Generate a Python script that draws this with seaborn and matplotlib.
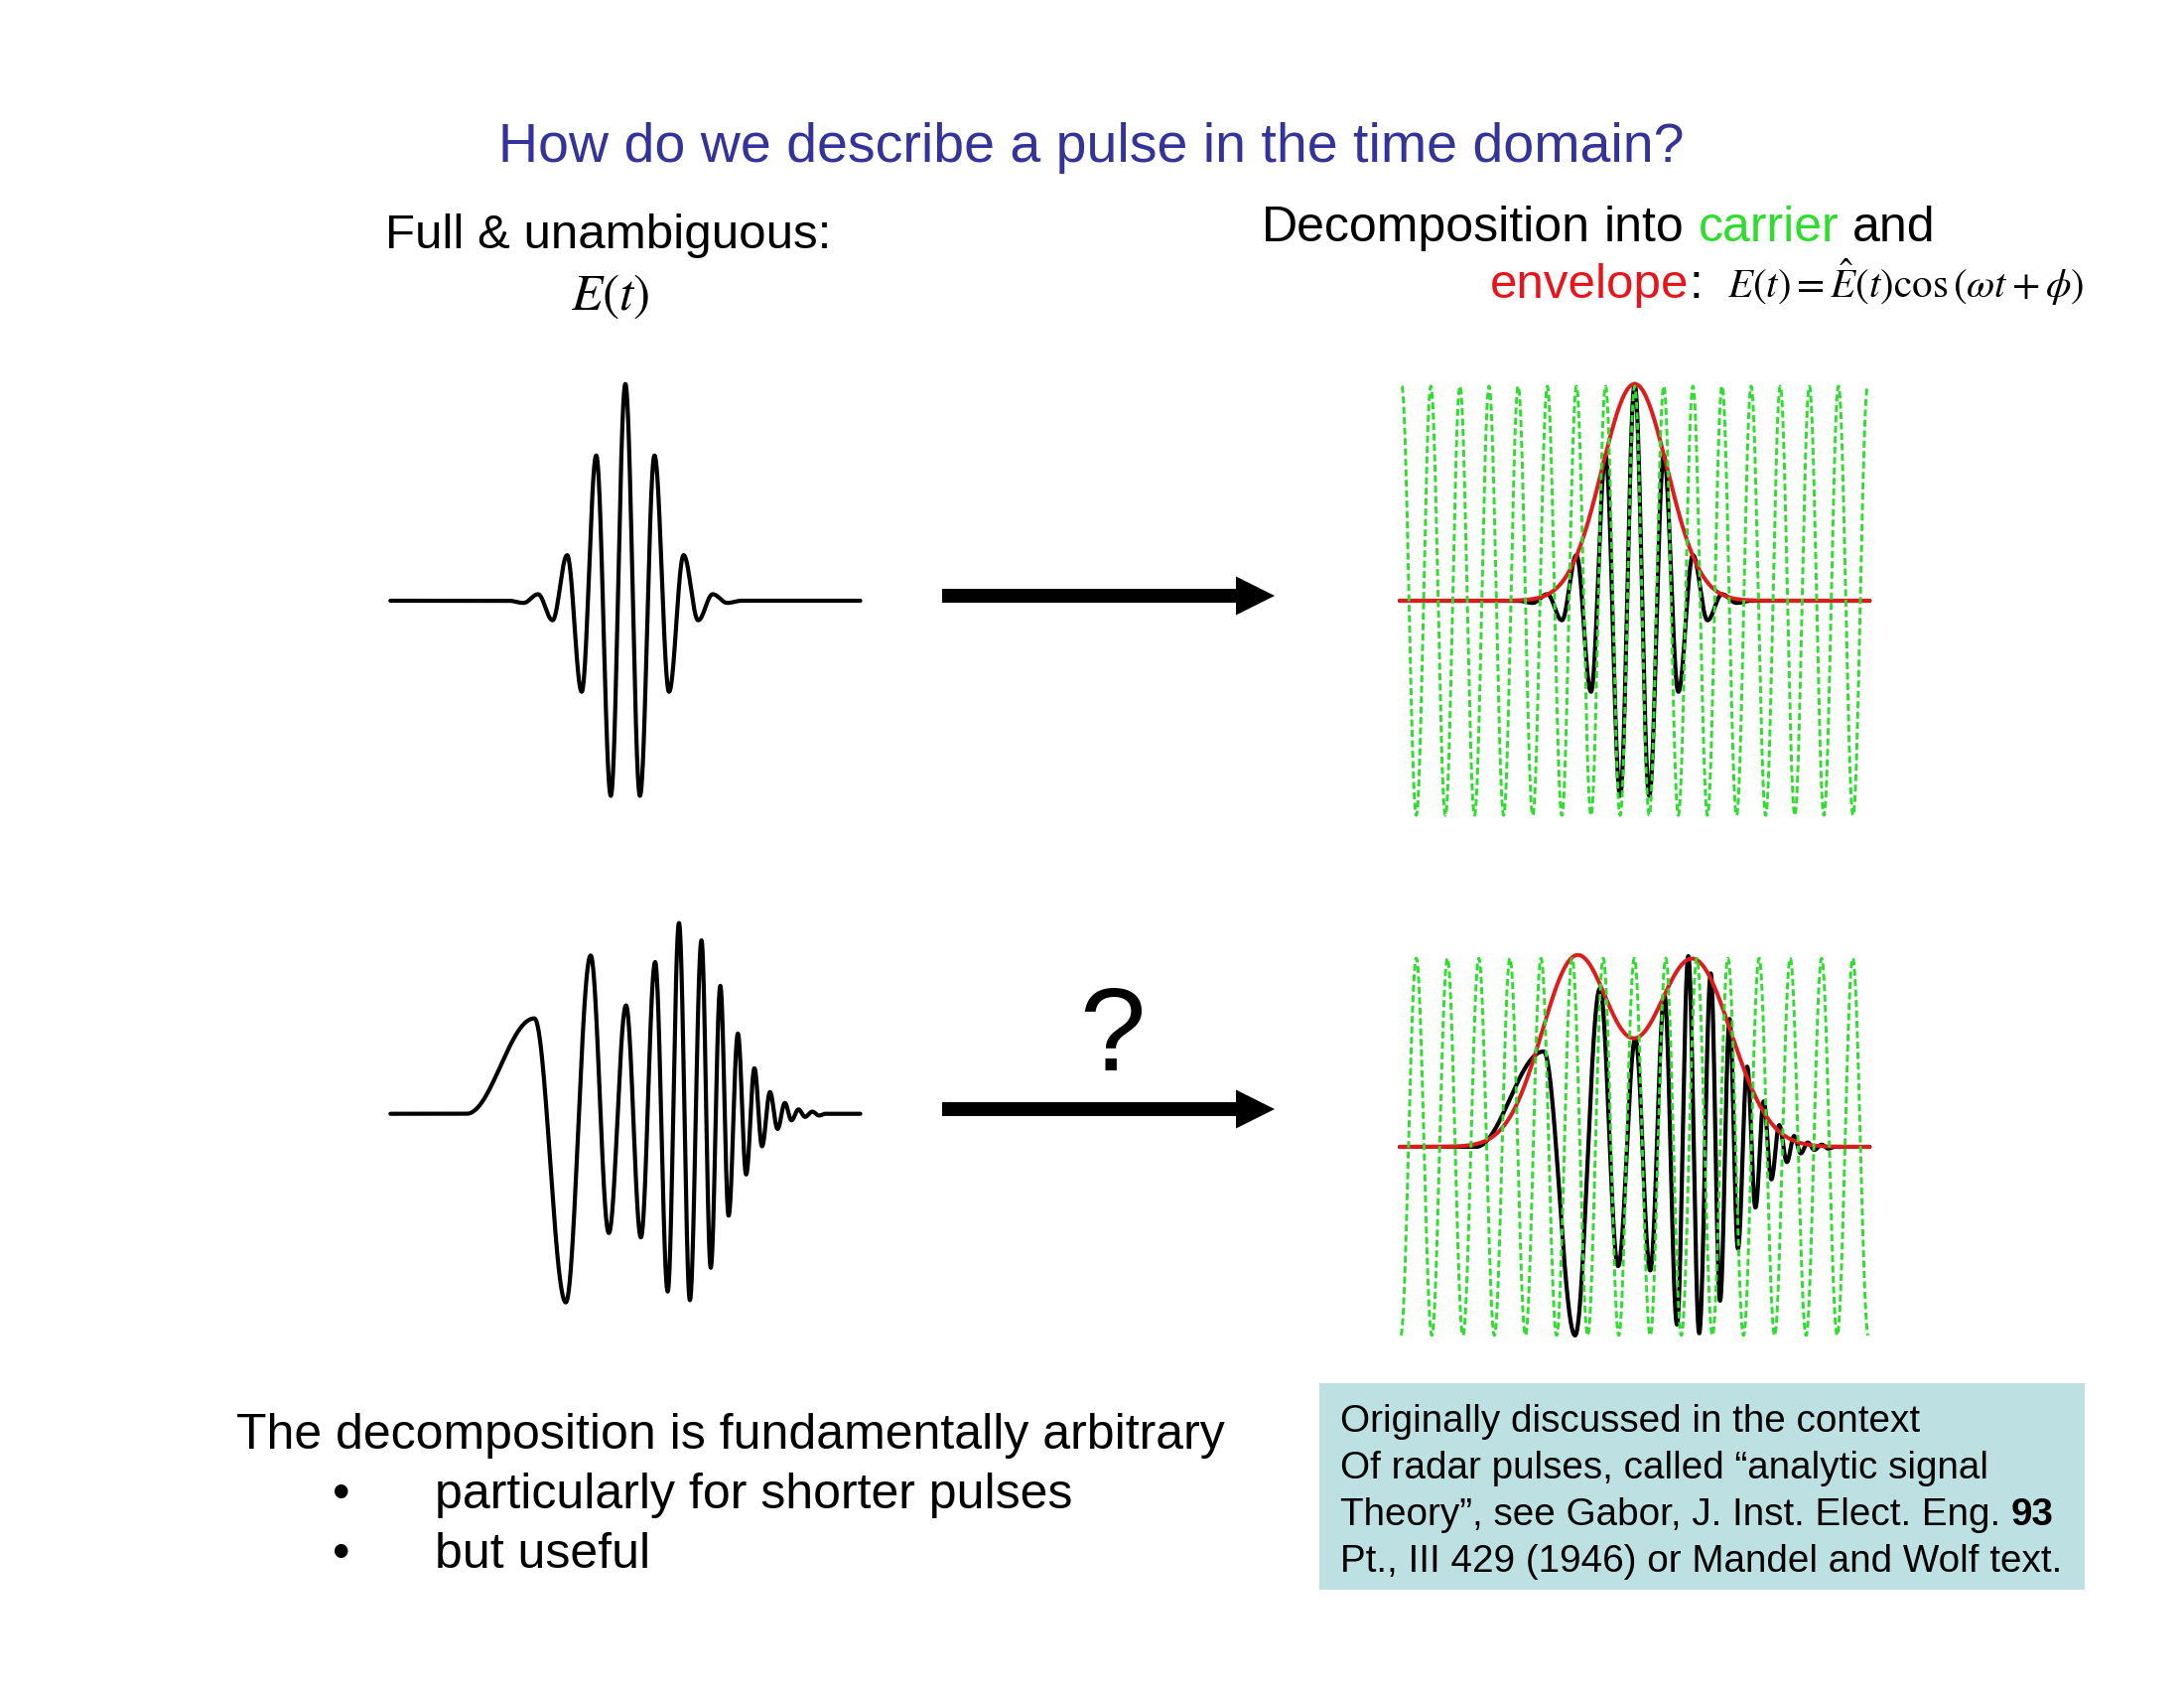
import numpy as np
import pandas as pd
import matplotlib
matplotlib.use("Agg")
import matplotlib.pyplot as plt
import seaborn as sns
from matplotlib.patches import FancyArrow, Rectangle

# ---------------- data (time in a.u., field normalised) -------------
time_range = [0.0, 142.0]

# extrema of the short (unchirped) pulse E(t)
short_pulse_t = [0.0, 35.8, 40.2, 44.6, 49.0, 53.4, 57.8, 62.2, 66.6, 71.0, 75.4, 79.8,
                 84.2, 88.6, 93.0, 97.4, 101.8, 106.2, 142.0]
short_pulse_v = [0.0, 0.0, -0.01, 0.03, -0.09, 0.21, -0.42, 0.67, -0.90, 1.00, -0.90, 0.67,
                 -0.42, 0.21, -0.09, 0.03, -0.01, 0.0, 0.0]

# extrema of the complex (chirped, double-humped) pulse E(t)
complex_pulse_t = [0.0, 23.0, 43.5, 53.0, 60.5, 66.0, 71.2, 75.7, 80.0, 83.8, 87.2, 90.5,
                   94.0, 96.8, 99.7, 102.2, 105.0, 107.5, 110.0, 112.3, 114.7, 117.0, 119.2,
                   121.2, 123.3, 125.3, 127.5, 129.5, 131.5, 142.0]
complex_pulse_v = [0.0, 0.0, 0.44, -0.87, 0.73, -0.55, 0.50, -0.57, 0.70, -0.82, 0.88, -0.86,
                   0.80, -0.71, 0.59, -0.47, 0.37, -0.28, 0.21, -0.15, 0.10, -0.07, 0.05,
                   -0.03, 0.02, -0.014, 0.01, -0.008, 0.0, 0.0]

# carrier extrema (green dashed)
short_carrier_t = [0.6, 5.0, 9.4, 13.8, 18.2, 22.6, 27.0, 31.4, 35.8, 40.2, 44.6, 49.0, 53.4,
                   57.8, 62.2, 66.6, 71.0, 75.4, 79.8, 84.2, 88.6, 93.0, 97.4, 101.8, 106.2,
                   110.6, 115.0, 119.4, 123.8, 128.2, 132.6, 137.0, 141.4]
short_carrier_v = [0.99, -0.99, 0.99, -0.99, 0.99, -0.99, 0.99, -0.99, 0.99, -0.99, 0.99,
                   -0.99, 0.99, -0.99, 0.99, -0.99, 0.99, -0.99, 0.99, -0.99, 0.99, -0.99,
                   0.99, -0.99, 0.99, -0.99, 0.99, -0.99, 0.99, -0.99, 0.99, -0.99, 0.99]
complex_carrier_t = [0.3, 5.0, 9.7, 14.4, 19.1, 23.9, 28.6, 33.3, 38.0, 42.7, 47.4, 52.1,
                     56.8, 61.5, 66.2, 70.9, 75.7, 80.4, 85.1, 89.8, 94.5, 99.2, 103.9,
                     108.6, 113.3, 118.0, 122.8, 127.5, 132.2, 136.9, 141.6]
complex_carrier_v = [-0.87, 0.87, -0.87, 0.87, -0.87, 0.87, -0.87, 0.87, -0.87, 0.87, -0.87,
                     0.87, -0.87, 0.87, -0.87, 0.87, -0.87, 0.87, -0.87, 0.87, -0.87, 0.87,
                     -0.87, 0.87, -0.87, 0.87, -0.87, 0.87, -0.87, 0.87, -0.87]

# envelope (red): bell-shaped humps  (centre, height, width)
short_env_center = [71.0]
short_env_height = [1.00]
short_env_width = [9.9]
complex_env_center = [53.5, 88.5]
complex_env_height = [0.875, 0.865]
complex_env_width = [10.5, 11.7]

# ---------------- helpers -----------------------------------------------------------------
t_grid = np.linspace(time_range[0], time_range[1], 4000)


def through_extrema(tk, vk, t):
    tk = np.asarray(tk, float)
    vk = np.asarray(vk, float)
    out = np.full_like(t, np.nan)
    inside = (t >= tk[0]) & (t <= tk[-1])
    tt = t[inside]
    idx = np.clip(np.searchsorted(tk, tt, side="right") - 1, 0, len(tk) - 2)
    s = (tt - tk[idx]) / (tk[idx + 1] - tk[idx])
    out[inside] = vk[idx] + (vk[idx + 1] - vk[idx]) * (1 - np.cos(np.pi * s)) / 2
    return out


def envelope(centers, heights, widths, t):
    e = np.zeros_like(t)
    for c, h, w in zip(centers, heights, widths):
        e += h * np.exp(-((t - c) ** 2) / (2 * w ** 2))
    return e


def frame(t, y):
    d = pd.DataFrame({"t": t, "E": y})
    return d.dropna()


short_df = frame(t_grid, through_extrema(short_pulse_t, short_pulse_v, t_grid))
complex_df = frame(t_grid, through_extrema(complex_pulse_t, complex_pulse_v, t_grid))
short_car_df = frame(t_grid, through_extrema(short_carrier_t, short_carrier_v, t_grid))
complex_car_df = frame(t_grid, through_extrema(complex_carrier_t, complex_carrier_v, t_grid))
short_env_df = frame(t_grid, envelope(short_env_center, short_env_height, short_env_width, t_grid))
complex_env_df = frame(t_grid, envelope(complex_env_center, complex_env_height, complex_env_width, t_grid))

# ---------------- figure ------------------------------------------------------------------
sns.set_style("white")
plt.rcParams["font.family"] = ["Liberation Sans", "DejaVu Sans"]
plt.rcParams["mathtext.fontset"] = "stix"
plt.rcParams["text.color"] = "black"

W, H = 2200, 1700
fig = plt.figure(figsize=(22, 17), dpi=100)
fig.patch.set_facecolor("white")

over = fig.add_axes([0, 0, 1, 1], zorder=0)
over.set_xlim(0, W)
over.set_ylim(H, 0)
over.axis("off")

PX_PER_UNIT_Y = 218.3
YLIM = 1.1
ax_h = 2 * YLIM * PX_PER_UNIT_Y
ax_w = 473.3


def panel(x_left, baseline_img):
    bottom = (H - baseline_img) - YLIM * PX_PER_UNIT_Y
    ax = fig.add_axes([x_left / W, bottom / H, ax_w / W, ax_h / H], zorder=2)
    ax.set_facecolor("none")
    ax.set_xlim(*time_range)
    ax.set_ylim(-YLIM, YLIM)
    ax.axis("off")
    return ax


BLACK_LW = 3.0
RED_LW = 2.9
GREEN_LW = 2.1
GREEN_COL = "#2fdc2f"
RED_COL = "#dd1c1c"

ax_tl = panel(393.3, 605)
ax_tr = panel(1410.0, 605)
ax_bl = panel(393.3, 1121.7)
ax_br = panel(1410.0, 1155)

for ax, pulse in [(ax_tl, short_df), (ax_bl, complex_df)]:
    sns.lineplot(data=pulse, x="t", y="E", ax=ax, color="black", lw=BLACK_LW,
                 sort=False, estimator=None, clip_on=False)

for ax, pulse, env, car in [(ax_tr, short_df, short_env_df, short_car_df),
                            (ax_br, complex_df, complex_env_df, complex_car_df)]:
    sns.lineplot(data=pulse, x="t", y="E", ax=ax, color="black", lw=BLACK_LW,
                 sort=False, estimator=None, clip_on=False, zorder=2)
    sns.lineplot(data=env, x="t", y="E", ax=ax, color=RED_COL, lw=RED_LW,
                 sort=False, estimator=None, clip_on=False, zorder=3)
    sns.lineplot(data=car, x="t", y="E", ax=ax, color=GREEN_COL, lw=GREEN_LW,
                 linestyle=(0, (2.4, 1.2)), sort=False, estimator=None,
                 clip_on=False, zorder=4)

for ax in (ax_tl, ax_tr, ax_bl, ax_br):
    ax.set_xlabel("")
    ax.set_ylabel("")
    ax.axis("off")

# arrows
for y in (600, 1117):
    over.add_patch(FancyArrow(949, y, 335, 0, width=14, head_width=39, head_length=39,
                              length_includes_head=True, color="black", lw=0))

# info box
over.add_patch(Rectangle((1329, 1393), 771, 208, facecolor="#bde0e3", edgecolor="none"))

# ---------------- texts -------------------------------------------------------------------
fig.canvas.draw()
renderer = fig.canvas.get_renderer()


def width_of(s, size, weight="normal"):
    t = over.text(0, 0, s, fontsize=size, fontweight=weight)
    w = t.get_window_extent(renderer).width
    t.remove()
    return w


def rich(x, y, parts, size):
    sp = width_of("a a", size) - width_of("aa", size)
    for i, (s, color, weight) in enumerate(parts):
        if i > 0:
            x += sp
        t = over.text(x, y, s, fontsize=size, color=color, fontweight=weight,
                      ha="left", va="baseline")
        x += t.get_window_extent(renderer).width
    return x


over.text(502, 163, "How do we describe a pulse in the time domain?", fontsize=40,
          color="#333399", ha="left", va="baseline")

over.text(388, 250, "Full & unambiguous:", fontsize=35.5, color="black",
          ha="left", va="baseline")
over.text(575, 312, r"$E\left(t\right)$", fontsize=37, color="black",
          ha="left", va="baseline")

rich(1271, 243, [("Decomposition", "black", "normal"), ("into", "black", "normal"),
                 ("carrier", GREEN_COL, "normal"), ("and", "black", "normal")], 36)
x_env = rich(1501, 300, [("envelope", "#e8141b", "normal")], 35.5)
over.text(x_env, 300, ":", fontsize=35.5, color="black", ha="left", va="baseline")
over.text(1740, 300, r"$E\left(t\right)=\hat{E}\left(t\right)\cos\left(\omega t+\phi\right)$",
          fontsize=29.5, color="black", ha="left", va="baseline")

over.text(1120, 1078, "?", fontsize=86, color="black", ha="center", va="baseline")

over.text(238, 1459, "The decomposition is fundamentally arbitrary", fontsize=36,
          color="black", ha="left", va="baseline")
for yb, s in [(1519, "particularly for shorter pulses"), (1579, "but useful")]:
    over.text(344, yb, "\u2022", fontsize=36, color="black", ha="center", va="baseline")
    over.text(438, yb, s, fontsize=36, color="black", ha="left", va="baseline")

box_size = 27.8
over.text(1350, 1442, "Originally discussed in the context", fontsize=box_size,
          color="black", ha="left", va="baseline")
over.text(1350, 1489, "Of radar pulses, called \u201canalytic signal", fontsize=box_size,
          color="black", ha="left", va="baseline")
rich(1350, 1536, [("Theory\u201d, see Gabor, J. Inst. Elect. Eng.", "black", "normal"),
                  ("93", "black", "bold")], box_size)
over.text(1350, 1583, "Pt., III 429 (1946) or Mandel and Wolf text.", fontsize=box_size,
          color="black", ha="left", va="baseline")

fig.savefig("out.png", dpi=100, facecolor="white")
